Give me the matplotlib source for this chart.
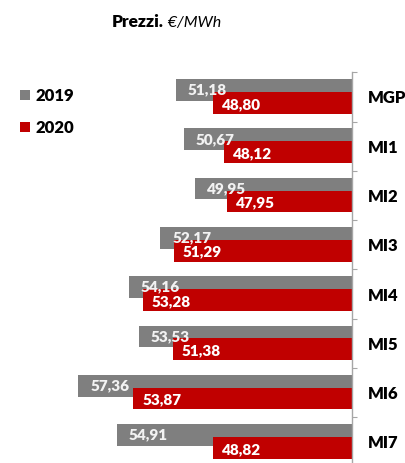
import numpy as np
import matplotlib
matplotlib.use('Agg')
import matplotlib.pyplot as plt

plt.rcParams['font.family'] = ['Lato', 'DejaVu Sans']

# data
mercati = ['MGP', 'MI1', 'MI2', 'MI3', 'MI4', 'MI5', 'MI6', 'MI7']
prezzi_2019 = [51.18, 50.67, 49.95, 52.17, 54.16, 53.53, 57.36, 54.91]
prezzi_2020 = [48.80, 48.12, 47.95, 51.29, 53.28, 51.38, 53.87, 48.82]
anni = ['2019', '2020']

grigio = '#7f7f7f'
rosso = '#c00000'
base = 40  # l'asse parte da 40 €/MWh

W, H = 405, 463
fig = plt.figure(figsize=(W / 100, H / 100), dpi=100)

# asse: da x=0 a x=352 px, da y=72 a y=467 px
ax = fig.add_axes([0, 1 - 466.6 / H, 351.7 / W, (466.6 - 72.3) / H])

y = np.arange(len(mercati))
h = 0.44
v19 = np.array(prezzi_2019) - base
v20 = np.array(prezzi_2020) - base

b19 = ax.barh(y - 0.14, v19, height=h, left=base, color=grigio, label=anni[0])
b20 = ax.barh(y + 0.12, v20, height=h, left=base, color=rosso, label=anni[1])

def fmt(v):
    return f'{v:.2f}'.replace('.', ',')

for yi, v in zip(y, prezzi_2020):
    ax.annotate(fmt(v), (v, yi + 0.15), xytext=(9, 0), textcoords='offset pixels',
                ha='left', va='center', color='white', fontsize=11, fontweight='heavy')
for yi, v in zip(y, prezzi_2019):
    ax.annotate(fmt(v), (v, yi - 0.14), xytext=(12, 0), textcoords='offset pixels',
                ha='left', va='center', color='#f2f2f2', fontsize=11, fontweight='heavy')

ax.set_xlim(base + 351.7 / 15.74, base)
ax.set_ylim(len(mercati) - 0.5, -0.5)

for s in ['top', 'left', 'bottom']:
    ax.spines[s].set_visible(False)
ax.spines['right'].set_color('#a6a6a6')
ax.spines['right'].set_linewidth(1)
ax.set_xticks([])

ax.yaxis.tick_right()
ax.set_yticks(y)
ax.set_yticklabels(mercati, fontsize=12, fontweight='heavy')
ax.set_yticks(np.arange(len(mercati)) - 0.5, minor=True)
ax.tick_params(axis='y', which='major', length=0, pad=11.5)
ax.tick_params(axis='y', which='minor', length=3.6, width=0.8, color='#a6a6a6', direction='out')

leg = fig.legend(handles=[b19, b20], loc='upper left', bbox_to_anchor=(5 / W, 1 - 73 / H),
                 frameon=False, handlelength=0.6, handleheight=0.6, handletextpad=0.3,
                 labelspacing=0.95, prop={'weight': 'heavy', 'size': 12})

t1 = fig.text(112 / W, 1 - 27 / H, 'Prezzi.', fontsize=12.5, fontweight='heavy', va='baseline')
fig.canvas.draw()
ax.annotate(' €/MWh', xy=(1, 0), xycoords=t1, va='bottom', fontsize=11.5, fontstyle='italic')

fig.savefig('out.png', dpi=100)
